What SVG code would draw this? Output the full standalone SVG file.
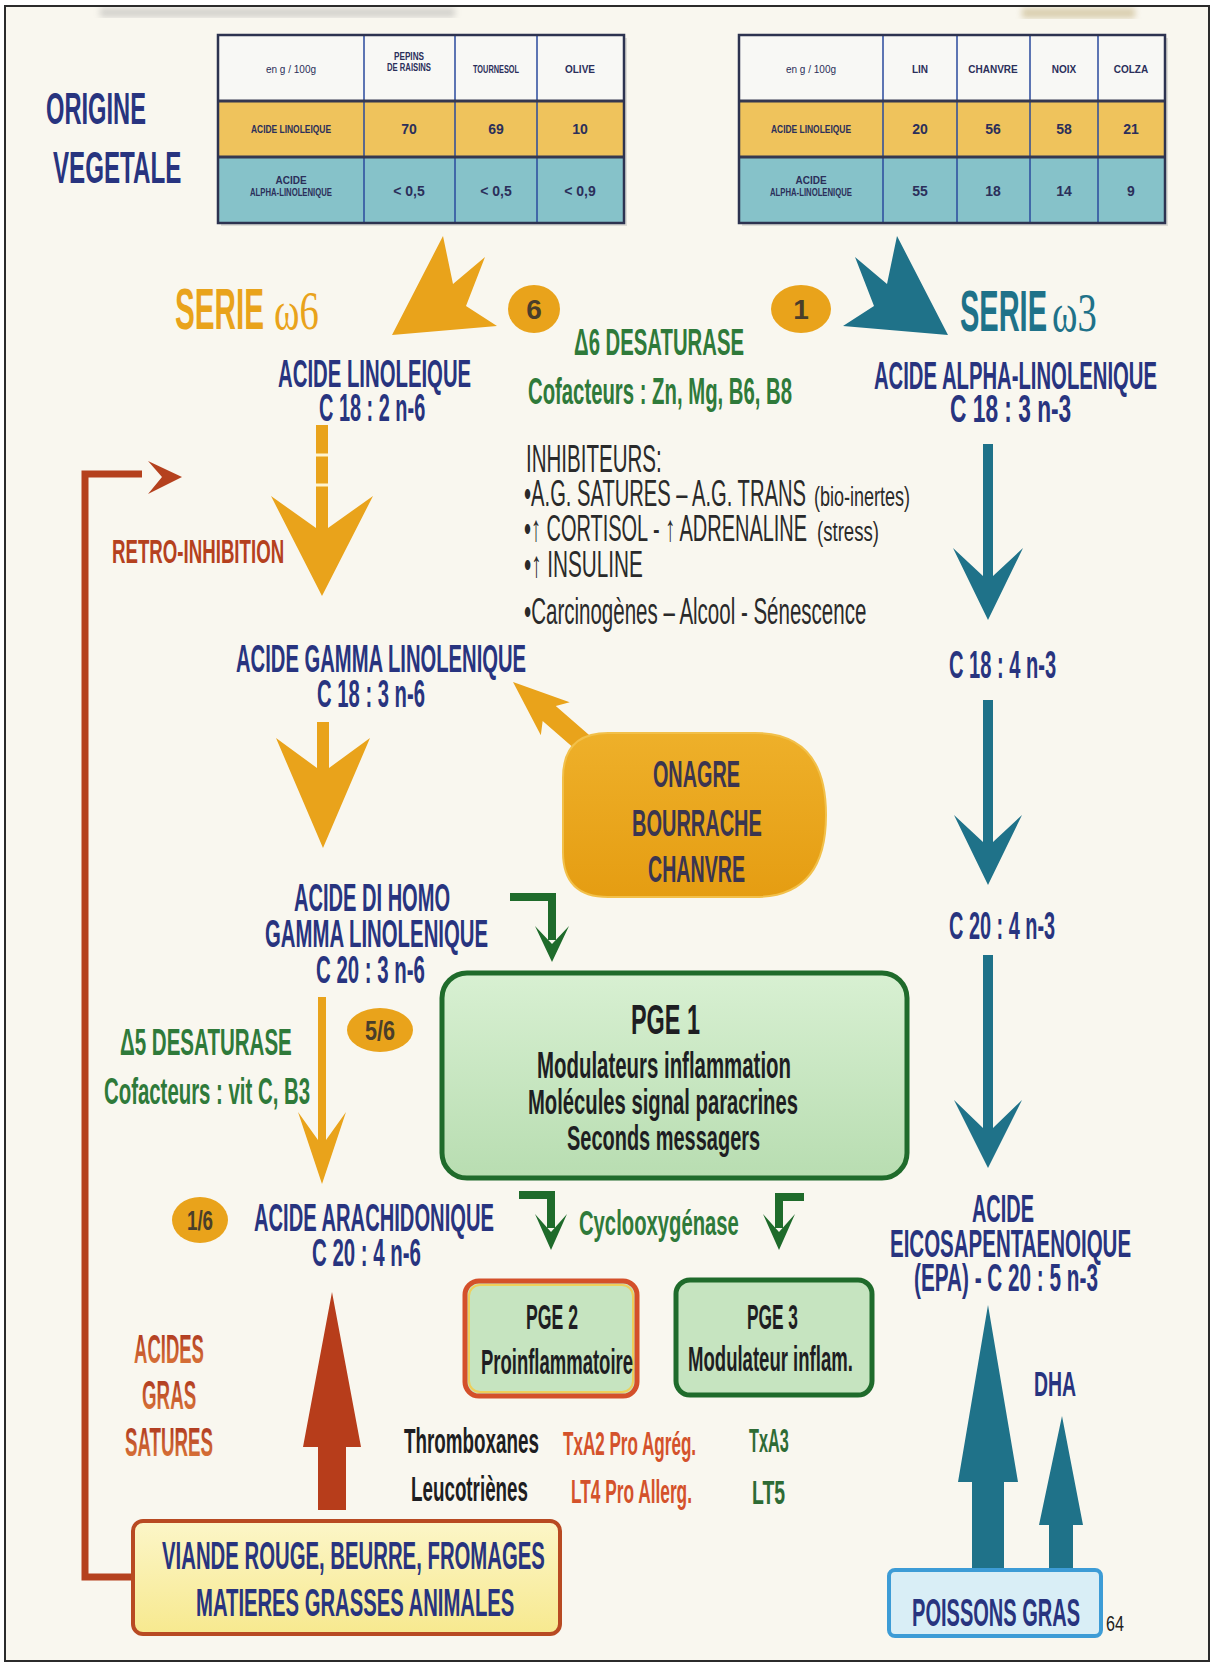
<svg xmlns="http://www.w3.org/2000/svg" width="1215" height="1667" viewBox="0 0 1215 1667">
<defs>
<style>
.t{font-family:"Liberation Sans Narrow","Liberation Sans",Arial,sans-serif;font-weight:bold}
.r{font-family:"Liberation Sans Narrow","Liberation Sans",Arial,sans-serif;font-weight:normal}
.nv{fill:#28347f}
.gr{fill:#2f7a3a}
.dk{fill:#1e1e22}
.ih{fill:#2a2a2a}
.tb{font-size:10px;fill:#2b2f5a}
.tn{font-size:14px;fill:#2b2f5a}
.ln{stroke:#2a4a9c;stroke-width:1.5}
.hl{stroke:#353850;stroke-width:3}
.yel{fill:#e9a31b}
.teal{fill:#1f7289}
.grn{fill:none;stroke:#1f6b2b;stroke-width:8}
.grh{fill:#1f6b2b}
.circ{fill:#e9a31b}
.cn{font-size:28px;fill:#4a3e2a;text-anchor:middle}
</style>
<linearGradient id="gPge" x1="0" y1="0" x2="0" y2="1"><stop offset="0" stop-color="#d8f0d2"/><stop offset="1" stop-color="#b8ddb1"/></linearGradient>
<linearGradient id="gOna" x1="0" y1="0" x2="0" y2="1"><stop offset="0" stop-color="#eeb02a"/><stop offset="1" stop-color="#e59d12"/></linearGradient>
<linearGradient id="gVia" x1="0" y1="0" x2="0" y2="1"><stop offset="0" stop-color="#fcf6c8"/><stop offset="1" stop-color="#f7e98f"/></linearGradient>
<linearGradient id="gSat" x1="0" y1="0" x2="0" y2="1"><stop offset="0" stop-color="#a8301c"/><stop offset="1" stop-color="#e2803e"/></linearGradient>
<filter id="blur"><feGaussianBlur stdDeviation="3"/></filter>
</defs>
<rect x="0" y="0" width="1215" height="1667" fill="#ffffff"/>
<rect x="5" y="6" width="1204" height="1655" fill="#f9f7ef" stroke="#2b2b2b" stroke-width="2"/>
<rect x="100" y="8" width="355" height="9" fill="#8a8a8a" opacity="0.35" filter="url(#blur)"/>
<rect x="1022" y="8" width="113" height="10" fill="#b9a56e" opacity="0.5" filter="url(#blur)"/>

<g id="origine">
<text class="t nv" x="46" y="124" font-size="45" transform="matrix(0.526 0 0 1 21.8 0)" textLength="190" lengthAdjust="spacingAndGlyphs">ORIGINE</text>
<text class="t nv" x="53" y="183" font-size="45" transform="matrix(0.528 0 0 1 25 0)" textLength="243" lengthAdjust="spacingAndGlyphs">VEGETALE</text>
</g>

<g id="table-left">
<rect x="221" y="38" width="406" height="188" fill="#8a8a8a" opacity="0.25"/>
<rect x="218" y="35" width="406" height="66" fill="#f8f8f5"/>
<rect x="218" y="101" width="406" height="56" fill="#efc35c"/>
<rect x="218" y="157" width="406" height="66" fill="#86c2c9"/>
<line class="ln" x1="364" y1="35" x2="364" y2="223"/>
<line class="ln" x1="455" y1="35" x2="455" y2="223"/>
<line class="ln" x1="537" y1="35" x2="537" y2="223"/>
<line class="hl" x1="218" y1="101" x2="624" y2="101"/>
<line class="hl" x1="218" y1="157" x2="624" y2="157"/>
<rect x="218" y="35" width="406" height="188" fill="none" stroke="#2d3350" stroke-width="2.5"/>
<text class="r tb" x="291" y="73" text-anchor="middle">en g / 100g</text>
<text class="t tb" x="409" y="60" text-anchor="middle" textLength="30" lengthAdjust="spacingAndGlyphs">PEPINS</text>
<text class="t tb" x="409" y="71" text-anchor="middle" textLength="44" lengthAdjust="spacingAndGlyphs">DE RAISINS</text>
<text class="t tb" x="496" y="73" text-anchor="middle" textLength="46" lengthAdjust="spacingAndGlyphs">TOURNESOL</text>
<text class="t tb" x="580" y="73" text-anchor="middle">OLIVE</text>
<text class="t tb" x="291" y="133" text-anchor="middle" textLength="80" lengthAdjust="spacingAndGlyphs">ACIDE LINOLEIQUE</text>
<text class="t tn" x="409" y="134" text-anchor="middle">70</text>
<text class="t tn" x="496" y="134" text-anchor="middle">69</text>
<text class="t tn" x="580" y="134" text-anchor="middle">10</text>
<text class="t tb" x="291" y="184" text-anchor="middle">ACIDE</text>
<text class="t tb" x="291" y="196" text-anchor="middle" textLength="82" lengthAdjust="spacingAndGlyphs">ALPHA-LINOLENIQUE</text>
<text class="t tn" x="409" y="196" text-anchor="middle">&lt; 0,5</text>
<text class="t tn" x="496" y="196" text-anchor="middle">&lt; 0,5</text>
<text class="t tn" x="580" y="196" text-anchor="middle">&lt; 0,9</text>
</g>

<g id="table-right">
<rect x="742" y="38" width="426" height="188" fill="#8a8a8a" opacity="0.25"/>
<rect x="739" y="35" width="426" height="66" fill="#f8f8f5"/>
<rect x="739" y="101" width="426" height="56" fill="#efc35c"/>
<rect x="739" y="157" width="426" height="66" fill="#86c2c9"/>
<line class="ln" x1="883" y1="35" x2="883" y2="223"/>
<line class="ln" x1="957" y1="35" x2="957" y2="223"/>
<line class="ln" x1="1030" y1="35" x2="1030" y2="223"/>
<line class="ln" x1="1098" y1="35" x2="1098" y2="223"/>
<line class="hl" x1="739" y1="101" x2="1165" y2="101"/>
<line class="hl" x1="739" y1="157" x2="1165" y2="157"/>
<rect x="739" y="35" width="426" height="188" fill="none" stroke="#2d3350" stroke-width="2.5"/>
<text class="r tb" x="811" y="73" text-anchor="middle">en g / 100g</text>
<text class="t tb" x="920" y="73" text-anchor="middle">LIN</text>
<text class="t tb" x="993" y="73" text-anchor="middle">CHANVRE</text>
<text class="t tb" x="1064" y="73" text-anchor="middle">NOIX</text>
<text class="t tb" x="1131" y="73" text-anchor="middle">COLZA</text>
<text class="t tb" x="811" y="133" text-anchor="middle" textLength="80" lengthAdjust="spacingAndGlyphs">ACIDE LINOLEIQUE</text>
<text class="t tn" x="920" y="134" text-anchor="middle">20</text>
<text class="t tn" x="993" y="134" text-anchor="middle">56</text>
<text class="t tn" x="1064" y="134" text-anchor="middle">58</text>
<text class="t tn" x="1131" y="134" text-anchor="middle">21</text>
<text class="t tb" x="811" y="184" text-anchor="middle">ACIDE</text>
<text class="t tb" x="811" y="196" text-anchor="middle" textLength="82" lengthAdjust="spacingAndGlyphs">ALPHA-LINOLENIQUE</text>
<text class="t tn" x="920" y="196" text-anchor="middle">55</text>
<text class="t tn" x="993" y="196" text-anchor="middle">18</text>
<text class="t tn" x="1064" y="196" text-anchor="middle">14</text>
<text class="t tn" x="1131" y="196" text-anchor="middle">9</text>
</g>

<g id="connectors">
<polygon class="yel" points="392,335 443,236 453,284 485,257 466,306 497,326"/>
<polygon class="teal" points="948,335 897,236 887,284 855,257 874,306 843,326"/>
<polygon class="yel" points="316,425 328,425 328,528 373,496 322,596 271,496 316,528"/>
<line x1="316" y1="455" x2="328" y2="455" stroke="#fff4d0" stroke-width="3"/>
<line x1="316" y1="485" x2="328" y2="485" stroke="#fff4d0" stroke-width="3"/>
<polygon class="yel" points="317,722 329,722 329,768 370,738 323,848 276,738 317,768"/>
<polygon class="yel" points="318,997 326,997 326,1140 346,1112 322,1184 298,1112 318,1140"/>
<polygon class="teal" points="983,444 993,444 993,576 1023,548 988,620 953,548 983,576"/>
<polygon class="teal" points="983,700 993,700 993,842 1022,815 988,885 954,815 983,842"/>
<polygon class="teal" points="983,955 993,955 993,1128 1022,1100 988,1168 954,1100 983,1128"/>
<polygon class="teal" points="988,1305 1018,1482 1004,1482 1004,1572 972,1572 972,1482 958,1482"/>
<polygon class="teal" points="1062,1416 1083,1525 1073,1525 1073,1572 1049,1572 1049,1525 1039,1525"/>
<polygon fill="#b73d1b" points="332,1292 361,1447 346,1447 346,1510 318,1510 318,1447 303,1447"/>
<path d="M132 1577 H85 V474 H142" fill="none" stroke="#b5411e" stroke-width="7"/>
<polygon fill="#b5411e" points="148,461 182,477 148,494 162,477"/>
<g transform="translate(513,682) rotate(41)"><polygon fill="#e9a31b" points="0,0 56,-22 48,-10 115,-10 115,10 48,10 56,22"/></g>
<path class="grn" d="M510 897 H552 V940"/>
<polygon class="grh" points="535,926 552,944 569,926 552,962"/>
<path class="grn" d="M519 1195 H551 V1228"/>
<polygon class="grh" points="535,1214 551,1232 567,1214 551,1250"/>
<path class="grn" d="M804 1197 H779 V1228"/>
<polygon class="grh" points="763,1214 779,1232 795,1214 779,1250"/>
</g>

<g id="serie6">
<text class="t" x="175" y="329" font-size="58" fill="#e9a31b" transform="matrix(0.511 0 0 1 85.6 0)" textLength="174" lengthAdjust="spacingAndGlyphs">SERIE</text>
<text x="274" y="329" font-size="54" fill="#e9a31b" font-family="Liberation Serif,serif" transform="matrix(0.7 0 0 1 82.2 0)" textLength="64" lengthAdjust="spacingAndGlyphs">ω6</text>
</g>
<g id="serie3">
<text class="t" x="960" y="331" font-size="58" fill="#1f7289" transform="matrix(0.5 0 0 1 480 0)" textLength="174" lengthAdjust="spacingAndGlyphs">SERIE</text>
<text x="1052" y="331" font-size="54" fill="#1f7289" font-family="Liberation Serif,serif" transform="matrix(0.7 0 0 1 315.6 0)" textLength="64" lengthAdjust="spacingAndGlyphs">ω3</text>
</g>

<g id="badge6"><ellipse class="circ" cx="534" cy="309" rx="26" ry="24"/><text class="t cn" x="534" y="319">6</text></g>
<g id="badge1"><ellipse class="circ" cx="801" cy="309" rx="30" ry="24"/><text class="t cn" x="801" y="319">1</text></g>

<g id="linoleique">
<text class="t nv" x="278" y="387" font-size="38" transform="matrix(0.535 0 0 1 129.3 0)" textLength="361" lengthAdjust="spacingAndGlyphs">ACIDE LINOLEIQUE</text>
<text class="t nv" x="319" y="421" font-size="38" transform="matrix(0.523 0 0 1 152.2 0)" textLength="203" lengthAdjust="spacingAndGlyphs">C 18 : 2 n-6</text>
</g>
<g id="alpha">
<text class="t nv" x="874" y="389" font-size="38" transform="matrix(0.532 0 0 1 409 0)" textLength="532" lengthAdjust="spacingAndGlyphs">ACIDE ALPHA-LINOLENIQUE</text>
<text class="t nv" x="950" y="422" font-size="38" transform="matrix(0.597 0 0 1 382.9 0)" textLength="203" lengthAdjust="spacingAndGlyphs">C 18 : 3 n-3</text>
</g>

<g id="delta6">
<text class="t gr" x="574" y="355" font-size="37" transform="matrix(0.552 0 0 1 257.2 0)" textLength="308" lengthAdjust="spacingAndGlyphs">Δ6 DESATURASE</text>
<text class="t gr" x="528" y="404" font-size="37" transform="matrix(0.549 0 0 1 238.1 0)" textLength="481" lengthAdjust="spacingAndGlyphs">Cofacteurs : Zn, Mg, B6, B8</text>
</g>

<g id="inhibiteurs">
<text class="r ih" x="526" y="472" font-size="38" transform="matrix(0.541 0 0 1 241.4 0)" textLength="251" lengthAdjust="spacingAndGlyphs">INHIBITEURS:</text>
<text class="r ih" x="524" y="506" font-size="37" transform="matrix(0.539 0 0 1 241.6 0)" textLength="523" lengthAdjust="spacingAndGlyphs">•A.G. SATURES – A.G. TRANS</text>
<text class="r ih" x="814" y="506" font-size="27" transform="matrix(0.667 0 0 1 271.1 0)" textLength="144" lengthAdjust="spacingAndGlyphs">(bio-inertes)</text>
<text class="r ih" x="524" y="541" font-size="37" transform="matrix(0.535 0 0 1 243.7 0)" textLength="529" lengthAdjust="spacingAndGlyphs">•↑ CORTISOL - ↑ ADRENALINE</text>
<text class="r ih" x="817" y="541" font-size="27" transform="matrix(0.689 0 0 1 254.1 0)" textLength="90" lengthAdjust="spacingAndGlyphs">(stress)</text>
<text class="r ih" x="524" y="577" font-size="37" transform="matrix(0.561 0 0 1 230 0)" textLength="212" lengthAdjust="spacingAndGlyphs">•↑ INSULINE</text>
<text class="r ih" x="524" y="624" font-size="37" transform="matrix(0.552 0 0 1 234.8 0)" textLength="620" lengthAdjust="spacingAndGlyphs">•Carcinogènes – Alcool - Sénescence</text>
</g>

<g id="retro">
<text class="t" fill="#b5411e" x="112" y="563" font-size="34" transform="matrix(0.55 0 0 1 50.4 0)" textLength="313" lengthAdjust="spacingAndGlyphs">RETRO-INHIBITION</text>
</g>

<g id="gamma">
<text class="t nv" x="236" y="672" font-size="39" transform="matrix(0.517 0 0 1 114 0)" textLength="561" lengthAdjust="spacingAndGlyphs">ACIDE GAMMA LINOLENIQUE</text>
<text class="t nv" x="317" y="707" font-size="39" transform="matrix(0.519 0 0 1 152.5 0)" textLength="208" lengthAdjust="spacingAndGlyphs">C 18 : 3 n-6</text>
</g>

<g id="c184"><text class="t nv" x="949" y="678" font-size="38" transform="matrix(0.528 0 0 1 447.9 0)" textLength="203" lengthAdjust="spacingAndGlyphs">C 18 : 4 n-3</text></g>
<g id="c204"><text class="t nv" x="949" y="939" font-size="38" transform="matrix(0.523 0 0 1 452.7 0)" textLength="203" lengthAdjust="spacingAndGlyphs">C 20 : 4 n-3</text></g>

<g id="onagre">
<path d="M608 733 H755 Q826 733 826 815 Q826 897 755 897 H608 Q563 897 563 852 V778 Q563 733 608 733 Z" fill="url(#gOna)" stroke="#f2c04a" stroke-width="2"/>
<text class="t" fill="#3b3550" x="653" y="787" font-size="37" transform="matrix(0.537 0 0 1 302.3 0)" textLength="162" lengthAdjust="spacingAndGlyphs">ONAGRE</text>
<text class="t" fill="#3b3550" x="632" y="836" font-size="37" transform="matrix(0.541 0 0 1 290.1 0)" textLength="240" lengthAdjust="spacingAndGlyphs">BOURRACHE</text>
<text class="t" fill="#3b3550" x="648" y="882" font-size="37" transform="matrix(0.53 0 0 1 304.6 0)" textLength="183" lengthAdjust="spacingAndGlyphs">CHANVRE</text>
</g>

<g id="dihomo">
<text class="t nv" x="294" y="911" font-size="39" transform="matrix(0.515 0 0 1 142.6 0)" textLength="303" lengthAdjust="spacingAndGlyphs">ACIDE DI HOMO</text>
<text class="t nv" x="265" y="947" font-size="39" transform="matrix(0.52 0 0 1 127.2 0)" textLength="429" lengthAdjust="spacingAndGlyphs">GAMMA LINOLENIQUE</text>
<text class="t nv" x="316" y="983" font-size="39" transform="matrix(0.524 0 0 1 150.4 0)" textLength="208" lengthAdjust="spacingAndGlyphs">C 20 : 3 n-6</text>
</g>

<g id="delta5">
<text class="t gr" x="120" y="1055" font-size="37" transform="matrix(0.558 0 0 1 53 0)" textLength="308" lengthAdjust="spacingAndGlyphs">Δ5 DESATURASE</text>
<text class="t gr" x="104" y="1104" font-size="37" transform="matrix(0.551 0 0 1 46.7 0)" textLength="374" lengthAdjust="spacingAndGlyphs">Cofacteurs : vit C, B3</text>
</g>
<g id="badge56"><ellipse class="circ" cx="380" cy="1030" rx="33" ry="22"/><text class="t cn" x="380" y="1040" transform="matrix(0.77 0 0 1 87.4 0)" textLength="39" lengthAdjust="spacingAndGlyphs">5/6</text></g>

<g id="pge1">
<rect x="442" y="973" width="465" height="205" rx="25" fill="url(#gPge)" stroke="#1f6b2b" stroke-width="5"/>
<text class="t dk" x="631" y="1034" font-size="42" transform="matrix(0.557 0 0 1 279.5 0)" textLength="124" lengthAdjust="spacingAndGlyphs">PGE 1</text>
<text class="t dk" x="537" y="1078" font-size="36" transform="matrix(0.567 0 0 1 232.5 0)" textLength="448" lengthAdjust="spacingAndGlyphs">Modulateurs inflammation</text>
<text class="t dk" x="528" y="1114" font-size="36" transform="matrix(0.5625 0 0 1 231 0)" textLength="480" lengthAdjust="spacingAndGlyphs">Molécules signal paracrines</text>
<text class="t dk" x="567" y="1150" font-size="36" transform="matrix(0.555 0 0 1 252.3 0)" textLength="348" lengthAdjust="spacingAndGlyphs">Seconds messagers</text>
</g>

<g id="badge16"><ellipse class="circ" cx="200" cy="1220" rx="28" ry="23"/><text class="t cn" x="200" y="1230" transform="matrix(0.67 0 0 1 66 0)" textLength="39" lengthAdjust="spacingAndGlyphs">1/6</text></g>

<g id="arachidonique">
<text class="t nv" x="254" y="1231" font-size="39" transform="matrix(0.516 0 0 1 122.9 0)" textLength="465" lengthAdjust="spacingAndGlyphs">ACIDE ARACHIDONIQUE</text>
<text class="t nv" x="312" y="1266" font-size="39" transform="matrix(0.524 0 0 1 148.5 0)" textLength="208" lengthAdjust="spacingAndGlyphs">C 20 : 4 n-6</text>
</g>

<g id="cyclo"><text class="t gr" x="579" y="1235" font-size="36" transform="matrix(0.563 0 0 1 253 0)" textLength="284" lengthAdjust="spacingAndGlyphs">Cyclooxygénase</text></g>

<g id="epa">
<text class="t nv" x="972" y="1222" font-size="38" transform="matrix(0.525 0 0 1 461.7 0)" textLength="118" lengthAdjust="spacingAndGlyphs">ACIDE</text>
<text class="t nv" x="890" y="1257" font-size="38" transform="matrix(0.531 0 0 1 417.4 0)" textLength="454" lengthAdjust="spacingAndGlyphs">EICOSAPENTAENOIQUE</text>
<text class="t nv" x="914" y="1291" font-size="38" transform="matrix(0.541 0 0 1 419.5 0)" textLength="340" lengthAdjust="spacingAndGlyphs">(EPA) - C 20 : 5 n-3</text>
</g>

<g id="pge2">
<rect x="465" y="1281" width="172" height="115" rx="14" fill="#c6e4c0" stroke="#d4502a" stroke-width="5"/>
<rect x="469" y="1285" width="164" height="107" rx="11" fill="none" stroke="#efcf5a" stroke-width="2"/>
<text class="t dk" x="526" y="1329" font-size="35" transform="matrix(0.505 0 0 1 260.4 0)" textLength="103" lengthAdjust="spacingAndGlyphs">PGE 2</text>
<text class="t dk" x="481" y="1374" font-size="35" transform="matrix(0.528 0 0 1 227 0)" textLength="288" lengthAdjust="spacingAndGlyphs">Proinflammatoire</text>
</g>

<g id="pge3">
<rect x="676" y="1280" width="196" height="115" rx="14" fill="#c6e4c0" stroke="#1f6b2b" stroke-width="5"/>
<text class="t dk" x="747" y="1329" font-size="35" transform="matrix(0.495 0 0 1 377.2 0)" textLength="103" lengthAdjust="spacingAndGlyphs">PGE 3</text>
<text class="t dk" x="688" y="1371" font-size="35" transform="matrix(0.53 0 0 1 323.4 0)" textLength="311" lengthAdjust="spacingAndGlyphs">Modulateur inflam.</text>
</g>

<g id="satures">
<text class="t" fill="url(#gSat)" x="134" y="1363" font-size="40" transform="matrix(0.463 0 0 1 72 0)" textLength="151" lengthAdjust="spacingAndGlyphs">ACIDES</text>
<text class="t" fill="url(#gSat)" x="142" y="1409" font-size="40" transform="matrix(0.467 0 0 1 75.7 0)" textLength="116" lengthAdjust="spacingAndGlyphs">GRAS</text>
<text class="t" fill="url(#gSat)" x="125" y="1456" font-size="40" transform="matrix(0.466 0 0 1 66.75 0)" textLength="189" lengthAdjust="spacingAndGlyphs">SATURES</text>
</g>

<g id="eicosanoides">
<text class="t dk" x="404" y="1453" font-size="36" transform="matrix(0.523 0 0 1 192.7 0)" textLength="258" lengthAdjust="spacingAndGlyphs">Thromboxanes</text>
<text class="t dk" x="411" y="1501" font-size="36" transform="matrix(0.522 0 0 1 196.5 0)" textLength="224" lengthAdjust="spacingAndGlyphs">Leucotriènes</text>
<text class="t" fill="#d4522b" x="563" y="1455" font-size="33" transform="matrix(0.514 0 0 1 273.6 0)" textLength="259" lengthAdjust="spacingAndGlyphs">TxA2 Pro Agrég.</text>
<text class="t" fill="#d4522b" x="571" y="1503" font-size="33" transform="matrix(0.515 0 0 1 276.9 0)" textLength="235" lengthAdjust="spacingAndGlyphs">LT4 Pro Allerg.</text>
<text class="t" fill="#2e6b35" x="749" y="1452" font-size="33" transform="matrix(0.49 0 0 1 382 0)" textLength="81" lengthAdjust="spacingAndGlyphs">TxA3</text>
<text class="t" fill="#2e6b35" x="752" y="1504" font-size="33" transform="matrix(0.56 0 0 1 330.9 0)" textLength="59" lengthAdjust="spacingAndGlyphs">LT5</text>
</g>

<g id="dha"><text class="t nv" x="1034" y="1396" font-size="36" transform="matrix(0.54 0 0 1 475.6 0)" textLength="78" lengthAdjust="spacingAndGlyphs">DHA</text></g>

<g id="viande">
<rect x="133" y="1521" width="427" height="113" rx="10" fill="url(#gVia)" stroke="#b84a22" stroke-width="4"/>
<text class="t nv" x="162" y="1569" font-size="39" transform="matrix(0.521 0 0 1 77.6 0)" textLength="735" lengthAdjust="spacingAndGlyphs">VIANDE ROUGE, BEURRE, FROMAGES</text>
<text class="t nv" x="196" y="1616" font-size="39" transform="matrix(0.515 0 0 1 95.1 0)" textLength="618" lengthAdjust="spacingAndGlyphs">MATIERES GRASSES ANIMALES</text>
</g>

<g id="poissons">
<rect x="889" y="1570" width="212" height="66" rx="6" fill="#d9eef6" stroke="#3d9cd6" stroke-width="4"/>
<text class="t nv" x="912" y="1626" font-size="38" transform="matrix(0.527 0 0 1 431.4 0)" textLength="319" lengthAdjust="spacingAndGlyphs">POISSONS GRAS</text>
</g>

<g id="page"><text class="r" fill="#222" x="1106" y="1631" font-size="22" transform="matrix(0.73 0 0 1 298.6 0)" textLength="24.5" lengthAdjust="spacingAndGlyphs">64</text></g>
</svg>
